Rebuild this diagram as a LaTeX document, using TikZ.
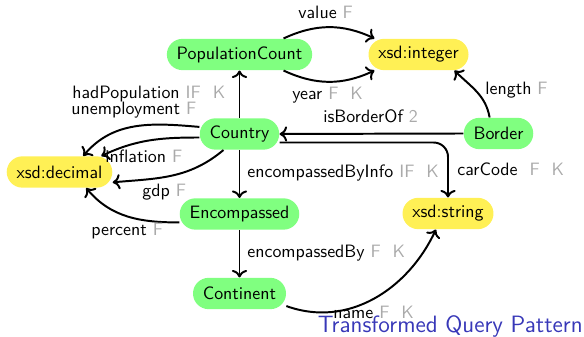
\documentclass[tikz,border=0pt]{standalone}
\usetikzlibrary{arrows.meta}
\definecolor{clsgreen}{RGB}{128,255,128}
\definecolor{lityellow}{RGB}{255,240,85}
\definecolor{flaggray}{RGB}{170,170,170}
\definecolor{titleblue}{RGB}{56,56,184}
\newcommand\flg[1]{\textcolor{flaggray}{#1}}
\begin{document}
\begin{tikzpicture}[x=0.5586pt,y=0.5586pt,
  font=\sffamily,
  entity/.style={rectangle, rounded corners=8.75pt, minimum height=17.5pt,
    inner xsep=5.5pt, inner ysep=0pt, fill=clsgreen},
  literal/.style={entity, fill=lityellow},
  rel/.style={line width=1.1pt, -{To[length=4.2pt,width=8.5pt]}},
  lab/.style={inner sep=0pt, anchor=base west}]
\useasboundingbox (0,0) rectangle (584,337);

% classes and literal types
\node[entity]  (pc)   at (239.5,282.5) {PopulationCount};
\node[literal] (int)  at (418.5,282.5) {xsd:integer};
\node[entity]  (ctry) at (239.5,203)   {Country};
\node[entity]  (bord) at (498.5,203.5) {Border};
\node[literal] (dec)  at (59.5,165)    {xsd:decimal};
\node[entity]  (enc)  at (239.5,123)   {Encompassed};
\node[literal] (str)  at (448,123.5)   {xsd:string};
\node[entity]  (cont) at (239.5,43.5)  {Continent};

% properties
\draw[rel] (pc.20) to[out=25,in=155] (int.160);
\draw[rel] (pc.-20) to[out=-25,in=-155] (int.-160);
\draw[rel] (ctry) -- (pc);
\draw[rel] (ctry.170) to[out=175,in=50] (dec.34);
\draw[rel] (ctry.185) to[out=180,in=25] (dec.21);
\draw[rel] (ctry.225) to[out=-140,in=5] (dec.-11);
\draw[rel] (enc.188) to[out=180,in=-50] (dec.-31);
\draw[rel] (ctry) -- (enc);
\draw[rel] (enc) -- (cont);
\draw[rel] (bord.west) -- (ctry.east);
\draw[rel] (bord.119) to[out=100,in=-45] (int.-24);
\draw[rel, rounded corners=8pt] (ctry.-12) -| (str.north);
\draw[rel] (cont.-15) to[out=-20,in=-115] (str.-127);

% property labels
\node[lab] (lvalue) at (298,318) {value \flg{F}};
\node[lab] (lyear)  at (292,237) {year \flg{F}~~\flg{K}};
\node[lab] (lhad)   at (72,238)  {hadPopulation \flg{IF}~~\flg{K}};
\node[lab] (lunem)  at (71,222)  {unemployment \flg{F}};
\node[lab] (linfl)  at (105,174) {inflation \flg{F}};
\node[lab] (lgdp)   at (142,140) {gdp \flg{F}};
\node[lab] (lperc)  at (91,101)  {percent \flg{F}};
\node[lab] (lebi)   at (247,159) {encompassedByInfo \flg{IF}~~\flg{K}};
\node[lab] (leb)    at (247,79)  {encompassedBy \flg{F}~~\flg{K}};
\node[lab] (lisb)   at (323,214) {isBorderOf \flg{2}};
\node[lab] (llen)   at (485,242) {length \flg{F}};
\node[lab] (lcar)   at (457,161) {carCode~~\flg{F}~~\flg{K}};
\node[lab] (lname)  at (333,18)  {name \flg{F}~~\flg{K}};

\node[inner sep=0pt, anchor=base east, font=\sffamily\fontsize{13.2}{16}\selectfont,
  text=titleblue] (title) at (583,4) {Transformed Query Pattern};
\end{tikzpicture}
\end{document}
